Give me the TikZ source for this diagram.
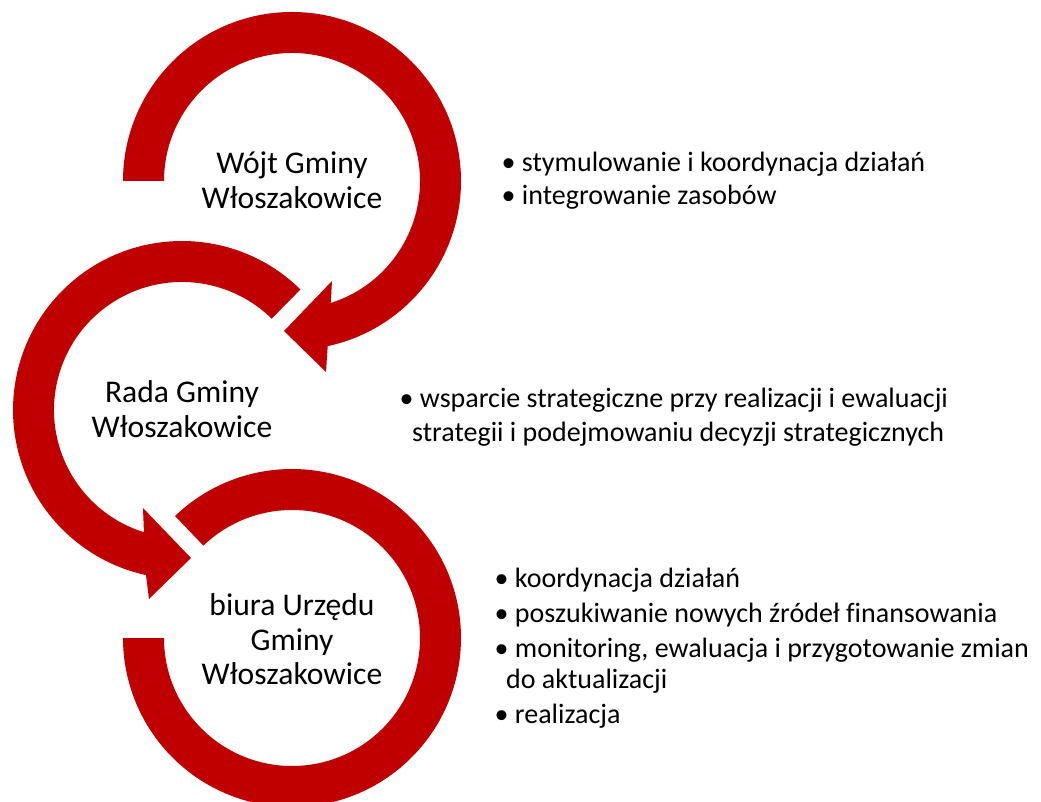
\documentclass[tikz,border=0pt]{standalone}
\usepackage{fontspec}
\setmainfont{Carlito}[Ligatures={NoCommon}]
\definecolor{arrowred}{HTML}{C00000}
\tikzset{
  ring/.style={fill=arrowred, draw=none},
  centertext/.style={anchor=base, inner sep=0pt, font=\fontsize{31.6}{35}\selectfont, text=black},
  bullettext/.style={anchor=base west, inner sep=0pt, font=\fontsize{28}{33}\selectfont, text=black}
}
\begin{document}
\begin{tikzpicture}[x=1pt, y=1pt]
\useasboundingbox (0,0) rectangle (1041,801);
\clip (0,0) rectangle (1041,801);
% circle 1 (Wojt)
\fill[ring, shift={(292,620)}] (180:169) arc[start angle=180, end angle=-77.8, radius=169]
  -- (34,-191) -- (-8,-150) -- (40,-100) -- (-72.4:128)
  arc[start angle=-72.4, end angle=180, radius=128] -- cycle;
% circle 2 (Rada)
\fill[ring, shift={(182,391)}] (45.5:169) arc[start angle=45.5, end angle=257.7, radius=169]
  -- (-33,-189) -- (9,-148) -- (-39,-98) -- (252.7:128)
  arc[start angle=252.7, end angle=45.5, radius=128] -- cycle;
% circle 3 (biura)
\fill[ring, shift={(292,163)}] (133.8:169) arc[start angle=133.8, end angle=-180, radius=169]
  -- (-180:128) arc[start angle=-180, end angle=133.8, radius=128] -- cycle;
% centre labels
\node[centertext] (w1) at (292,627) {Wójt Gminy};
\node[centertext] (w2) at (292,592) {Włoszakowice};
\node[centertext] (r1) at (182,398) {Rada Gminy};
\node[centertext] (r2) at (182,363) {Włoszakowice};
\node[centertext] (b1) at (292,186) {biura Urzędu};
\node[centertext] (b2) at (292,151) {Gminy};
\node[centertext] (b3) at (292,117) {Włoszakowice};
% bullet texts
\node[bullettext] (t1a) at (501.5,629) {•\ stymulowanie i koordynacja działań};
\node[bullettext] (t1b) at (501.5,596) {•\ integrowanie zasobów};
\node[bullettext] (t2a) at (399.5,393) {•\ wsparcie strategiczne przy realizacji i ewaluacji};
\node[bullettext] (t2b) at (412,359) {strategii i podejmowaniu decyzji strategicznych};
\node[bullettext] (t3a) at (494.5,214) {•\ koordynacja działań};
\node[bullettext] (t3b) at (494.5,179) {•\ poszukiwanie nowych źródeł finansowania};
\node[bullettext] (t3c) at (494.5,144) {•\ monitoring, ewaluacja i przygotowanie zmian};
\node[bullettext] (t3d) at (506,113) {do aktualizacji};
\node[bullettext] (t3e) at (494.5,78) {•\ realizacja};
\end{tikzpicture}
\end{document}
